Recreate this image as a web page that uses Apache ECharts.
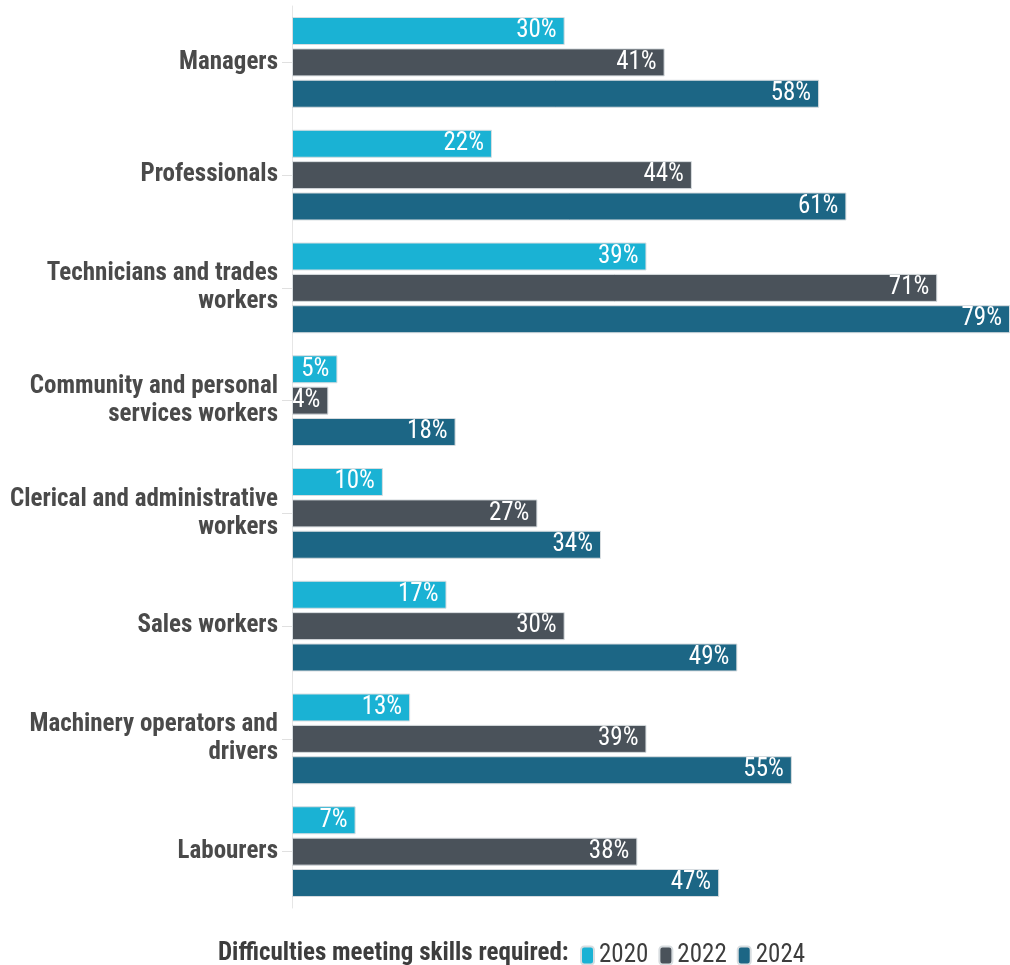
<!DOCTYPE html>
<html>
<head>
<meta charset="utf-8">
<script src="https://cdn.jsdelivr.net/npm/echarts@6/dist/echarts.min.js"></script>
<style>
  html, body { margin: 0; padding: 0; background: #fff; }
  #chart { width: 1010px; height: 965px; }
</style>
</head>
<body>
<div id="chart"></div>
<script>
// Occupation groups, top to bottom
const categories = [
  'Managers',
  'Professionals',
  'Technicians and trades\nworkers',
  'Community and personal\nservices workers',
  'Clerical and administrative\nworkers',
  'Sales workers',
  'Machinery operators and\ndrivers',
  'Labourers'
];
const years = ['2020', '2022', '2024'];
// Share of employers reporting difficulties (%)
const values2020 = [30, 22, 39, 5, 10, 17, 13, 7];
const values2022 = [41, 44, 71, 4, 27, 30, 39, 38];
const values2024 = [58, 61, 79, 18, 34, 49, 55, 47];
const colors = ['#1ab2d4', '#4a525a', '#1c6685'];

const FONT = "'Roboto Condensed', 'Liberation Sans Narrow', 'DejaVu Sans Condensed', sans-serif";

const chart = echarts.init(document.getElementById('chart'));

function barSeries(name, data, color) {
  return {
    name: name,
    type: 'bar',
    data: data,
    barWidth: 28,
    barGap: '12%',
    itemStyle: { color: color, borderColor: '#d8dde0', borderWidth: 1 },
    label: {
      show: true,
      position: 'insideRight',
      distance: 8,
      color: '#fff',
      fontFamily: FONT,
      fontSize: 25,
      formatter: '{c}%'
    }
  };
}

chart.setOption({
  animation: false,
  textStyle: { fontFamily: FONT },
  grid: { left: 292, right: 0, top: 6, bottom: 57 },
  title: {
    text: 'Difficulties meeting skills required:',
    left: 213,
    top: 936,
    textStyle: { fontFamily: FONT, fontWeight: 'bold', fontSize: 25, color: '#3d3d3d' }
  },
  legend: {
    data: years,
    left: 575,
    top: 938,
    itemWidth: 13,
    itemHeight: 18,
    itemGap: 10,
    icon: 'roundRect',
    textStyle: { fontFamily: FONT, fontSize: 25, color: '#3d3d3d' }
  },
  xAxis: {
    type: 'value',
    min: 0,
    max: 79,
    show: false
  },
  yAxis: {
    type: 'category',
    data: categories,
    inverse: true,
    axisLine: { show: true, lineStyle: { color: '#e6e6e6', width: 1 } },
    axisTick: { show: true, alignWithLabel: true, length: 10, lineStyle: { color: '#e0e0e0' } },
    axisLabel: {
      color: '#4a4a4a',
      fontFamily: FONT,
      fontWeight: 'bold',
      fontSize: 25,
      lineHeight: 28,
      margin: 14,
      align: 'right'
    }
  },
  series: [
    barSeries(years[0], values2020, colors[0]),
    barSeries(years[1], values2022, colors[1]),
    barSeries(years[2], values2024, colors[2])
  ]
});
</script>
</body>
</html>
